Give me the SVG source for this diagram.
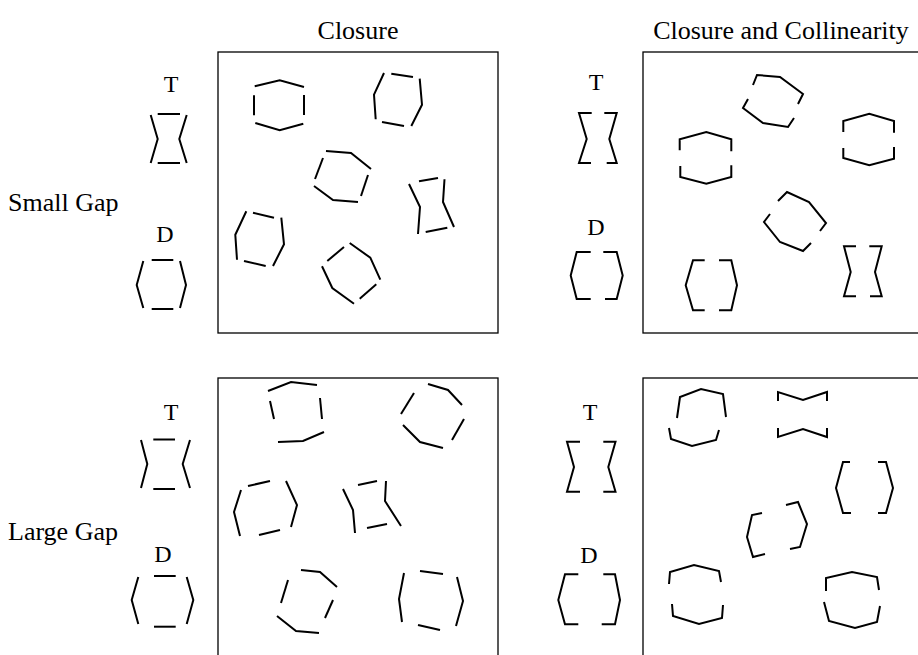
<svg xmlns="http://www.w3.org/2000/svg" width="918" height="655" viewBox="0 0 918 655">
<style>
.t{font-family:"Liberation Serif","Times New Roman",serif;font-size:26px;fill:#000}
.l{font-family:"Liberation Serif","Times New Roman",serif;font-size:24px;fill:#000}
.box{fill:none;stroke:#000;stroke-width:1.3}
.s{fill:none;stroke:#000;stroke-width:2;stroke-linejoin:miter;stroke-linecap:butt}
</style>
<rect width="918" height="655" fill="#fff"/>
<g id="labels">
<text class="t" x="358" y="39" text-anchor="middle">Closure</text>
<text class="t" x="781" y="39" text-anchor="middle">Closure and Collinearity</text>
<text class="t" x="8" y="211">Small Gap</text>
<text class="t" x="8" y="540">Large Gap</text>
<text class="l" x="171" y="92" text-anchor="middle">T</text>
<text class="l" x="165" y="242" text-anchor="middle">D</text>
<text class="l" x="596" y="90" text-anchor="middle">T</text>
<text class="l" x="596" y="235" text-anchor="middle">D</text>
<text class="l" x="171" y="420" text-anchor="middle">T</text>
<text class="l" x="163" y="562" text-anchor="middle">D</text>
<text class="l" x="590" y="420" text-anchor="middle">T</text>
<text class="l" x="589" y="563" text-anchor="middle">D</text>
</g>
<g id="panels">
<rect class="box" x="218" y="52" width="280" height="281"/>
<rect class="box" x="643" y="52" width="300" height="281"/>
<rect class="box" x="218" y="378" width="280" height="300"/>
<rect class="box" x="643" y="378" width="300" height="300"/>
</g>
<g id="icon-small-closure-T" class="s">
<line x1="157.7" y1="114" x2="180" y2="114"/>
<polyline points="150.7,115 157.7,139 150.7,163"/>
<polyline points="186.7,115 179.3,139 186.7,163"/>
<line x1="157.7" y1="163" x2="180" y2="163"/>
</g>
<g id="icon-small-closure-D" class="s">
<line x1="151.7" y1="260" x2="173.3" y2="260"/>
<polyline points="143.3,261 136.7,285 143.3,308"/>
<polyline points="180,261 186,285 180,308"/>
<line x1="151.7" y1="309" x2="173.3" y2="309"/>
</g>
<g id="icon-small-coll-T" class="s">
<polyline points="591.7,113 579,113 586.7,139 579,163 591,163"/>
<polyline points="604.3,113 616.7,113 609.3,139 616.7,163 606.7,163"/>
</g>
<g id="icon-small-coll-D" class="s">
<polyline points="590.7,252 576.7,252 570.7,275.5 576.7,299 590.7,299"/>
<polyline points="603.3,252 616.7,252 622.7,275.5 616.7,299 605,299"/>
</g>
<g id="icon-large-closure-T" class="s">
<line x1="153.3" y1="439.5" x2="175" y2="439.5"/>
<polyline points="141,440 147.3,464 141,488"/>
<polyline points="190,440 182.7,464 190,488"/>
<line x1="153.3" y1="489" x2="175" y2="489"/>
</g>
<g id="icon-large-closure-D" class="s">
<line x1="154" y1="576" x2="175.7" y2="576"/>
<polyline points="138.3,577 131.7,600 138.3,624"/>
<polyline points="186.7,577 193.3,600 186.7,624"/>
<line x1="154" y1="626.7" x2="175.7" y2="626.7"/>
</g>
<g id="icon-large-coll-T" class="s">
<polyline points="580,441.7 567,441.7 574,467 567,491.7 580,491.7"/>
<polyline points="603.3,441.7 615.5,441.7 608.3,467 615.5,491.7 603.3,491.7"/>
</g>
<g id="icon-large-coll-D" class="s">
<polyline points="578.3,574.3 565,574.3 558.3,600 565,624.3 578.3,624.3"/>
<polyline points="603.3,574.3 615,574.3 620,600 615,624.3 601.7,624.3"/>
</g>
<g id="p1-a" class="s">
<polyline points="254.7,86.3 279.7,80.3 304,87"/>
<line x1="254" y1="95.3" x2="254" y2="115.3"/>
<line x1="304" y1="95" x2="304" y2="115"/>
<polyline points="255.3,123 279.7,130.3 303.3,123.7"/>
</g>
<g id="p1-b" class="s">
<polyline points="384,73 374,94.7 375.7,119.3"/>
<line x1="391.3" y1="73.7" x2="413" y2="77"/>
<polyline points="419.7,78.7 422,104.7 411.3,126"/>
<line x1="382" y1="122" x2="404" y2="126"/>
</g>
<g id="p1-c" class="s">
<polyline points="326,151 351,153 371,169"/>
<line x1="368" y1="175" x2="361" y2="196"/>
<polyline points="314,186 333,200 358,202"/>
<line x1="315" y1="179" x2="323" y2="158"/>
</g>
<g id="p1-d" class="s">
<polyline points="246.3,211.3 235.3,234.7 237,259.7"/>
<line x1="253" y1="212.7" x2="274" y2="217.7"/>
<polyline points="281.3,217.7 284,244.3 273,266"/>
<line x1="244" y1="261" x2="265.7" y2="266"/>
</g>
<g id="p1-e" class="s">
<polyline points="322,266.3 332.3,288 354,303.7"/>
<line x1="327.3" y1="261" x2="344" y2="247"/>
<polyline points="349.7,243 370.3,257.7 380.3,279.7"/>
<line x1="376.3" y1="284.3" x2="359.7" y2="298.7"/>
</g>
<g id="p1-f" class="s">
<line x1="419" y1="181.3" x2="438" y2="178"/>
<polyline points="409,184 420,207 418,234"/>
<polyline points="444.5,179.3 443,202 454,227"/>
<line x1="425.7" y1="232" x2="447.3" y2="227.7"/>
</g>
<g id="p2-g" class="s">
<polyline points="679.7,150.3 679.7,139.3 706.3,132 731.3,139.3 731.3,151.3"/>
<polyline points="680.3,166 680.3,177 706.3,183.7 731.3,177 731.3,165.3"/>
</g>
<g id="p2-h" class="s">
<polyline points="753,85 757,75 780,77 803,94 798,104"/>
<polyline points="748,99 743,108 763,123 788,127 794,118"/>
</g>
<g id="p2-i" class="s">
<polyline points="843.3,132 843.3,121 869.3,113.7 894,121 894,132.7"/>
<polyline points="843.3,148 843.3,158 869.3,165.3 894,158.7 894,147"/>
</g>
<g id="p2-j" class="s">
<polyline points="778,201 787,192 809,202 826,223 820,231"/>
<polyline points="770,214 764,222 780,242 803,251 811,243"/>
</g>
<g id="p2-k" class="s">
<polyline points="704.7,260.3 693,260.3 685.7,285.3 693,310.3 704.7,310.3"/>
<polyline points="719,260.3 731.3,260.3 737,285.3 731.3,310.3 719,310.3"/>
</g>
<g id="p2-l" class="s">
<polyline points="856,246.3 844,246.3 850.7,272 844,296.3 856,296.3"/>
<polyline points="869.3,246.3 881.7,246.3 875,272 881.7,296.3 870,296.3"/>
</g>
<g id="p3-m" class="s">
<polyline points="268,391 291,382 317,385"/>
<line x1="270" y1="401" x2="274" y2="419"/>
<line x1="320" y1="398" x2="322" y2="419"/>
<polyline points="278,442 303,441 324,432"/>
</g>
<g id="p3-n" class="s">
<polyline points="428,384 448,390 462,405"/>
<line x1="464" y1="419" x2="452" y2="440"/>
<polyline points="443,448 420,442 403,425"/>
<line x1="401" y1="414" x2="414" y2="393"/>
</g>
<g id="p3-o" class="s">
<polyline points="241,490 234,512 240,536"/>
<line x1="248" y1="486" x2="270" y2="481"/>
<polyline points="286,481 297,505 291,527"/>
<line x1="259" y1="535" x2="280" y2="530"/>
</g>
<g id="p3-p" class="s">
<line x1="358" y1="485" x2="377" y2="481"/>
<polyline points="343,489 353,510 355,533"/>
<polyline points="386,481 385,501 401,526"/>
<line x1="367" y1="528" x2="387" y2="524"/>
</g>
<g id="p3-q" class="s">
<polyline points="301,570 320,572 337,587"/>
<line x1="333" y1="600" x2="325" y2="618"/>
<polyline points="319,633 296,631 277,616"/>
<line x1="281" y1="603" x2="288" y2="580"/>
</g>
<g id="p3-r" class="s">
<polyline points="404,573 399,599 402,622"/>
<line x1="420" y1="571" x2="443" y2="574"/>
<polyline points="457,577 463,601 456,626"/>
<line x1="418" y1="625" x2="440" y2="630"/>
</g>
<g id="p4-s" class="s">
<polyline points="677,418 680,397 701,389 723,394 726,417"/>
<polyline points="669,428 671,439 692,446 716,440 719,430"/>
</g>
<g id="p4-t" class="s">
<polyline points="778,401 778,392 803,400 827,392 827,401"/>
<polyline points="778,428 778,437 803,429 827,437 827,428"/>
</g>
<g id="p4-u" class="s">
<polyline points="850,462 843,462 836,488 843,513 851,513"/>
<polyline points="878,462 886,462 893,488 886,513 878,513"/>
</g>
<g id="p4-v" class="s">
<polyline points="762,513 752,515 747,537 753,557 765,554"/>
<polyline points="786,505 798,502 807,524 800,547 790,549"/>
</g>
<g id="p4-w" class="s">
<polyline points="669,584 670,572 694,565 719,571 721,582"/>
<polyline points="672,604 673,616 699,624 722,618 723,605"/>
</g>
<g id="p4-x" class="s">
<polyline points="826,591 826,578 852,572 877,577 879,590"/>
<polyline points="824,602 829,621 855,628 877,622 880,606"/>
</g>
</svg>
